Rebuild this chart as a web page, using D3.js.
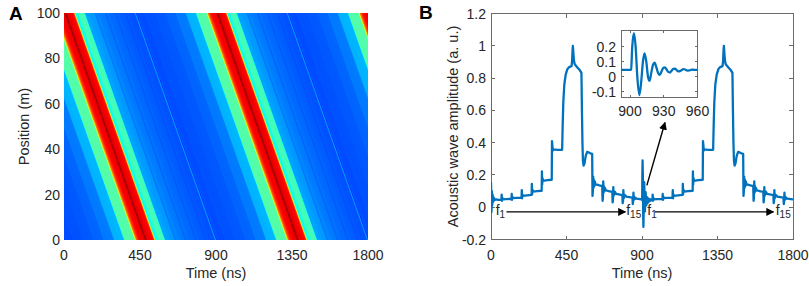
<!DOCTYPE html>
<html><head><meta charset="utf-8">
<script src="https://cdn.jsdelivr.net/npm/d3@7"></script>
<style>
body{margin:0;background:#fff;}
svg{display:block;font-family:"Liberation Sans",Arial,sans-serif;}
</style></head><body>
<svg id="c" width="809" height="286"></svg>
<script>
// ---------------- data ----------------
const xTicks = [0, 450, 900, 1350, 1800];
const posTicks = [0, 20, 40, 60, 80, 100];
const ampTicks = [-0.2, 0, 0.2, 0.4, 0.6, 0.8, 1, 1.2];
const insetXTicks = [900, 930, 960];
const insetYTicks = [-0.1, 0, 0.1, 0.2];
const cycleStarts = [0, 900];          // the pulse train repeats every 900 ns
const delayPerMetre = 4.8;             // ns of delay per metre of fibre (panel A)

// ringing at t = 0 (start of the record)
const ringStart = [[0,0.155],[1.5,0.08],[3,-0.03],[5,0.1],[7,0.01],[9,0.08],[11,0.03],[13,0.065],[16,0.04],[19,0.055],[23,0.045],[30,0.048],[45,0.046]];
// ringing after 900 ns (shown in the inset)
const ringMid = [[892,0.045],[900,0.045],[901,0.05],[902,0.2],[903.5,0.29],[905,0.2],[906.5,0.0],[908.3,-0.122],[910,-0.03],[911.5,0.1],[912.9,0.156],[914.5,0.1],[916,0.0],[917.4,-0.027],[919,0.03],[920.5,0.08],[921.9,0.093],[923.5,0.06],[925,0.025],[926.4,0.012],[928,0.035],[929.5,0.058],[931,0.062],[932.5,0.048],[934,0.032],[935.5,0.028],[937,0.04],[938.5,0.052],[940,0.053],[941.5,0.044],[943,0.036],[944.5,0.037],[946,0.045],[947.5,0.05],[949,0.048],[951,0.041],[953,0.042],[955,0.047],[957,0.046],[960,0.045]];
// one pulse period, 60 ns .. 900 ns (f2 ... f15)
const cycle = [
[60,0.046],[62,0.046],[63.5,0.078],[65,0.04],[67,0.06],[70,0.048],[90,0.05],[120,0.052],
[122,0.052],[123.5,0.082],[125,0.045],[127,0.065],[130,0.056],[150,0.058],[182,0.06],
[183.5,0.106],[185,0.055],[187,0.08],[190,0.07],[215,0.073],[242,0.076],
[243.5,0.145],[245,0.08],[247,0.11],[250,0.097],[275,0.1],[302,0.102],
[303.5,0.222],[305,0.14],[307,0.18],[310,0.163],[335,0.168],[362,0.17],
[363.5,0.41],[366,0.38],[369,0.352],[372,0.358],[395,0.355],[424,0.356],
[427,0.5],[431,0.65],[437,0.76],[445,0.82],[455,0.855],[466,0.868],[480,0.874],
[483,0.9],[486,0.97],[488,1.0],[490,0.97],[494,0.91],[499,0.885],[515,0.866],[530,0.848],[539,0.832],
[542,0.6],[545,0.4],[548,0.29],[552,0.258],[557,0.27],[565,0.32],[573,0.343],[580,0.34],[592,0.334],[603,0.33],
[605,0.07],[607,0.1],[609,0.19],[611,0.12],[613,0.17],[616,0.13],[619,0.16],[623,0.14],[631,0.14],[646,0.135],[663,0.13],
[665,0.04],[667,0.06],[669,0.16],[671,0.09],[673,0.13],[676,0.1],[679,0.12],[684,0.105],[701,0.1],[723,0.095],
[725,0.03],[727,0.05],[729,0.125],[731,0.07],[733,0.1],[736,0.08],[739,0.095],[746,0.082],[783,0.075],
[785,0.025],[787,0.04],[789,0.105],[791,0.055],[793,0.08],[796,0.065],[799,0.075],[806,0.066],[843,0.06],
[845,0.02],[847,0.035],[849,0.09],[851,0.045],[853,0.065],[856,0.05],[859,0.06],[866,0.053],[898,0.048]];

// ---------------- helpers ----------------
const svg = d3.select("#c");
const ink = "#262626", axisGrey = "#6b6b6b", lineBlue = "#0072BD";

function jet(x){
  const c = v => Math.max(0, Math.min(1, v));
  const r = c(1.5 - Math.abs(4*x - 3)), g = c(1.5 - Math.abs(4*x - 2)), b = c(1.5 - Math.abs(4*x - 1));
  return d3.rgb(r*255, g*255, b*255).toString();
}
const color = d3.scaleSequential(jet).domain([-0.2, 1.01]);

// full record for panel B
const series = [
  ...ringStart,
  ...cycle.map(d => [d[0] + cycleStarts[0], d[1]]),
  ...ringMid.filter(d => d[0] >= 900),
  ...cycle.map(d => [d[0] + cycleStarts[1], d[1]]),
  [1800, 0.047]
];
// one periodic waveform (phase 0..900) for panel A
const period = [...ringMid.filter(d => d[0] >= 900).map(d => [d[0] - 900, d[1]]), ...cycle.filter(d => d[0] > 60), [900, 0.045]];
const periodInterp = ph => {
  ph = ((ph % 900) + 900) % 900;
  const i = d3.bisector(d => d[0]).right(period, ph);
  if (i <= 0) return period[0][1];
  if (i >= period.length) return period[period.length-1][1];
  const a = period[i-1], b = period[i];
  return a[1] + (b[1]-a[1]) * (ph - a[0]) / (b[0]-a[0]);
};
// value seen by one image pixel (about 6 ns wide)
const pixelValue = ph => d3.mean([-3, -1.5, 0, 1.5, 3], o => periodInterp(ph + o));

// ---------------- Panel A ----------------
const xA = d3.scaleLinear().domain([0, 1800]).range([64, 368]);
const yA = d3.scaleLinear().domain([0, 100]).range([240, 13]);
svg.append("clipPath").attr("id", "clipA").append("rect")
  .attr("x", xA(0)).attr("y", yA(100)).attr("width", xA(1800) - xA(0)).attr("height", yA(0) - yA(100));
const gA = svg.append("g").attr("clip-path", "url(#clipA)");
gA.append("rect").attr("x", xA(0)).attr("y", yA(100)).attr("width", xA(1800) - xA(0)).attr("height", yA(0) - yA(100))
  .attr("fill", color(0.05));
const step = 1.5;
const stripes = [];
for (let ph = -step; ph < 900; ph += step) stripes.push(ph);
const shift = delayPerMetre * 100;
const cells = [];
[0, 900, 1800].forEach(n => stripes.forEach(ph => cells.push({ph, n})));
gA.selectAll("path").data(cells).enter().append("path")
  .attr("fill", d => color(pixelValue(d.ph + step/2)))
  .attr("d", d => {
    const t0 = d.ph + d.n, t1 = d.ph + 3 * step + d.n;
    return "M" + xA(t0) + "," + yA(-1) + "L" + xA(t1) + "," + yA(-1) +
           "L" + xA(t1 - shift - 4.8) + "," + yA(101) + "L" + xA(t0 - shift - 4.8) + "," + yA(101) + "Z";
  });
// tick labels A (ticks hidden behind the image as in the original)
svg.append("g").selectAll("text").data(xTicks).enter().append("text")
  .attr("x", d => xA(d)).attr("y", 260).attr("text-anchor", "middle")
  .attr("font-size", 14).attr("fill", ink).text(d => d);
svg.append("g").selectAll("text").data(posTicks).enter().append("text")
  .attr("x", xA(0) - 4).attr("y", d => yA(d) + 5).attr("text-anchor", "end")
  .attr("font-size", 14).attr("fill", ink).text(d => d);
svg.append("text").attr("x", (xA(0)+xA(1800))/2).attr("y", 278).attr("text-anchor", "middle")
  .attr("font-size", 14.5).attr("fill", ink).text("Time (ns)");
svg.append("text").attr("transform", `translate(29,${(yA(0)+yA(100))/2}) rotate(-90)`)
  .attr("text-anchor", "middle").attr("font-size", 14.5).attr("fill", ink).text("Position (m)");
svg.append("text").attr("x", 9).attr("y", 20).attr("font-size", 19).attr("font-weight", "bold").attr("fill", "#000").text("A");

// ---------------- Panel B ----------------
const xB = d3.scaleLinear().domain([0, 1800]).range([491, 793]);
const yB = d3.scaleLinear().domain([-0.2, 1.2]).range([239.5, 13.5]);
const gB = svg.append("g");
function boxAxes(g, xs, ys, xt, yt, tl, fs, lx, ly){
  const [x0, x1] = xs.range(), [y0, y1] = ys.range();
  g.append("rect").attr("x", x0).attr("y", y1).attr("width", x1 - x0).attr("height", y0 - y1)
    .attr("fill", "#fff").attr("stroke", axisGrey).attr("stroke-width", 1).attr("shape-rendering", "crispEdges");
  const tk = g.append("g").attr("stroke", axisGrey).attr("stroke-width", 1).attr("shape-rendering", "crispEdges");
  xt.forEach(v => {
    tk.append("line").attr("x1", xs(v)).attr("x2", xs(v)).attr("y1", y0).attr("y2", y0 - tl);
    tk.append("line").attr("x1", xs(v)).attr("x2", xs(v)).attr("y1", y1).attr("y2", y1 + tl);
  });
  yt.forEach(v => {
    tk.append("line").attr("y1", ys(v)).attr("y2", ys(v)).attr("x1", x0).attr("x2", x0 + tl);
    tk.append("line").attr("y1", ys(v)).attr("y2", ys(v)).attr("x1", x1).attr("x2", x1 - tl);
  });
  g.append("g").selectAll("text").data(xt).enter().append("text")
    .attr("x", d => xs(d)).attr("y", y0 + lx).attr("text-anchor", "middle")
    .attr("font-size", fs).attr("fill", ink).text(d => d);
  g.append("g").selectAll("text").data(yt).enter().append("text")
    .attr("x", x0 - ly).attr("y", d => ys(d) + fs*0.36).attr("text-anchor", "end")
    .attr("font-size", fs).attr("fill", ink).text(d => d);
}
boxAxes(gB, xB, yB, xTicks, ampTicks, 4, 14, 20.5, 5);
const lineB = d3.line().x(d => xB(d[0])).y(d => yB(d[1]));
svg.append("clipPath").attr("id", "clipB").append("rect").attr("x", 491).attr("y", 13.5).attr("width", 302).attr("height", 226);
gB.append("path").datum(series).attr("clip-path", "url(#clipB)").attr("d", lineB)
  .attr("fill", "none").attr("stroke", lineBlue).attr("stroke-width", 2.3).attr("stroke-linejoin", "round");
svg.append("text").attr("x", (xB(0)+xB(1800))/2).attr("y", 278).attr("text-anchor", "middle")
  .attr("font-size", 14.5).attr("fill", ink).text("Time (ns)");
svg.append("text").attr("transform", `translate(458,${(yB(-0.2)+yB(1.2))/2}) rotate(-90)`)
  .attr("text-anchor", "middle").attr("font-size", 14.5).attr("fill", ink).text("Acoustic wave amplitude (a. u.)");
svg.append("text").attr("x", 419).attr("y", 19).attr("font-size", 19).attr("font-weight", "bold").attr("fill", "#000").text("B");

// arrows
const defs = svg.append("defs");
defs.append("marker").attr("id", "ah").attr("viewBox", "0 0 10 10").attr("refX", 9).attr("refY", 5)
  .attr("markerWidth", 8).attr("markerHeight", 8).attr("markerUnits", "userSpaceOnUse").attr("orient", "auto")
  .append("path").attr("d", "M0,0L10,5L0,10Z").attr("fill", "#000");
const arrows = [
  {from: [92, -0.029], to: [801, -0.029]},
  {from: [977, -0.029], to: [1684, -0.029]},
  {from: [929, 0.135], to: [1037, 0.525]}
];
gB.selectAll(null).data(arrows).enter().append("line")
  .attr("x1", d => xB(d.from[0])).attr("y1", d => yB(d.from[1]))
  .attr("x2", d => xB(d.to[0])).attr("y2", d => yB(d.to[1]))
  .attr("stroke", "#000").attr("stroke-width", 1.4).attr("marker-end", "url(#ah)");
const fLabels = [
  {t: 28, sub: "1"}, {t: 806, sub: "15"}, {t: 932, sub: "1"}, {t: 1697, sub: "15"}
];
fLabels.forEach(d => {
  const tx = gB.append("text").attr("x", xB(d.t)).attr("y", yB(-0.05)).attr("font-size", 14).attr("fill", ink);
  tx.append("tspan").text("f");
  tx.append("tspan").attr("font-size", 10).attr("dy", 3).text(d.sub);
});

// inset
const xI = d3.scaleLinear().domain([892, 960]).range([621, 697.5]);
const yI = d3.scaleLinear().domain([-0.137, 0.311]).range([97.3, 30]);
const gI = svg.append("g");
boxAxes(gI, xI, yI, insetXTicks, insetYTicks, 2.5, 14, 18.7, 5);
svg.append("clipPath").attr("id", "clipI").append("rect").attr("x", 621).attr("y", 30).attr("width", 76.5).attr("height", 67.3);
const lineI = d3.line().x(d => xI(d[0])).y(d => yI(d[1])).curve(d3.curveMonotoneX);
gI.append("path").datum(ringMid).attr("clip-path", "url(#clipI)").attr("d", lineI)
  .attr("fill", "none").attr("stroke", lineBlue).attr("stroke-width", 2.3).attr("stroke-linejoin", "round");
</script>
</body></html>
